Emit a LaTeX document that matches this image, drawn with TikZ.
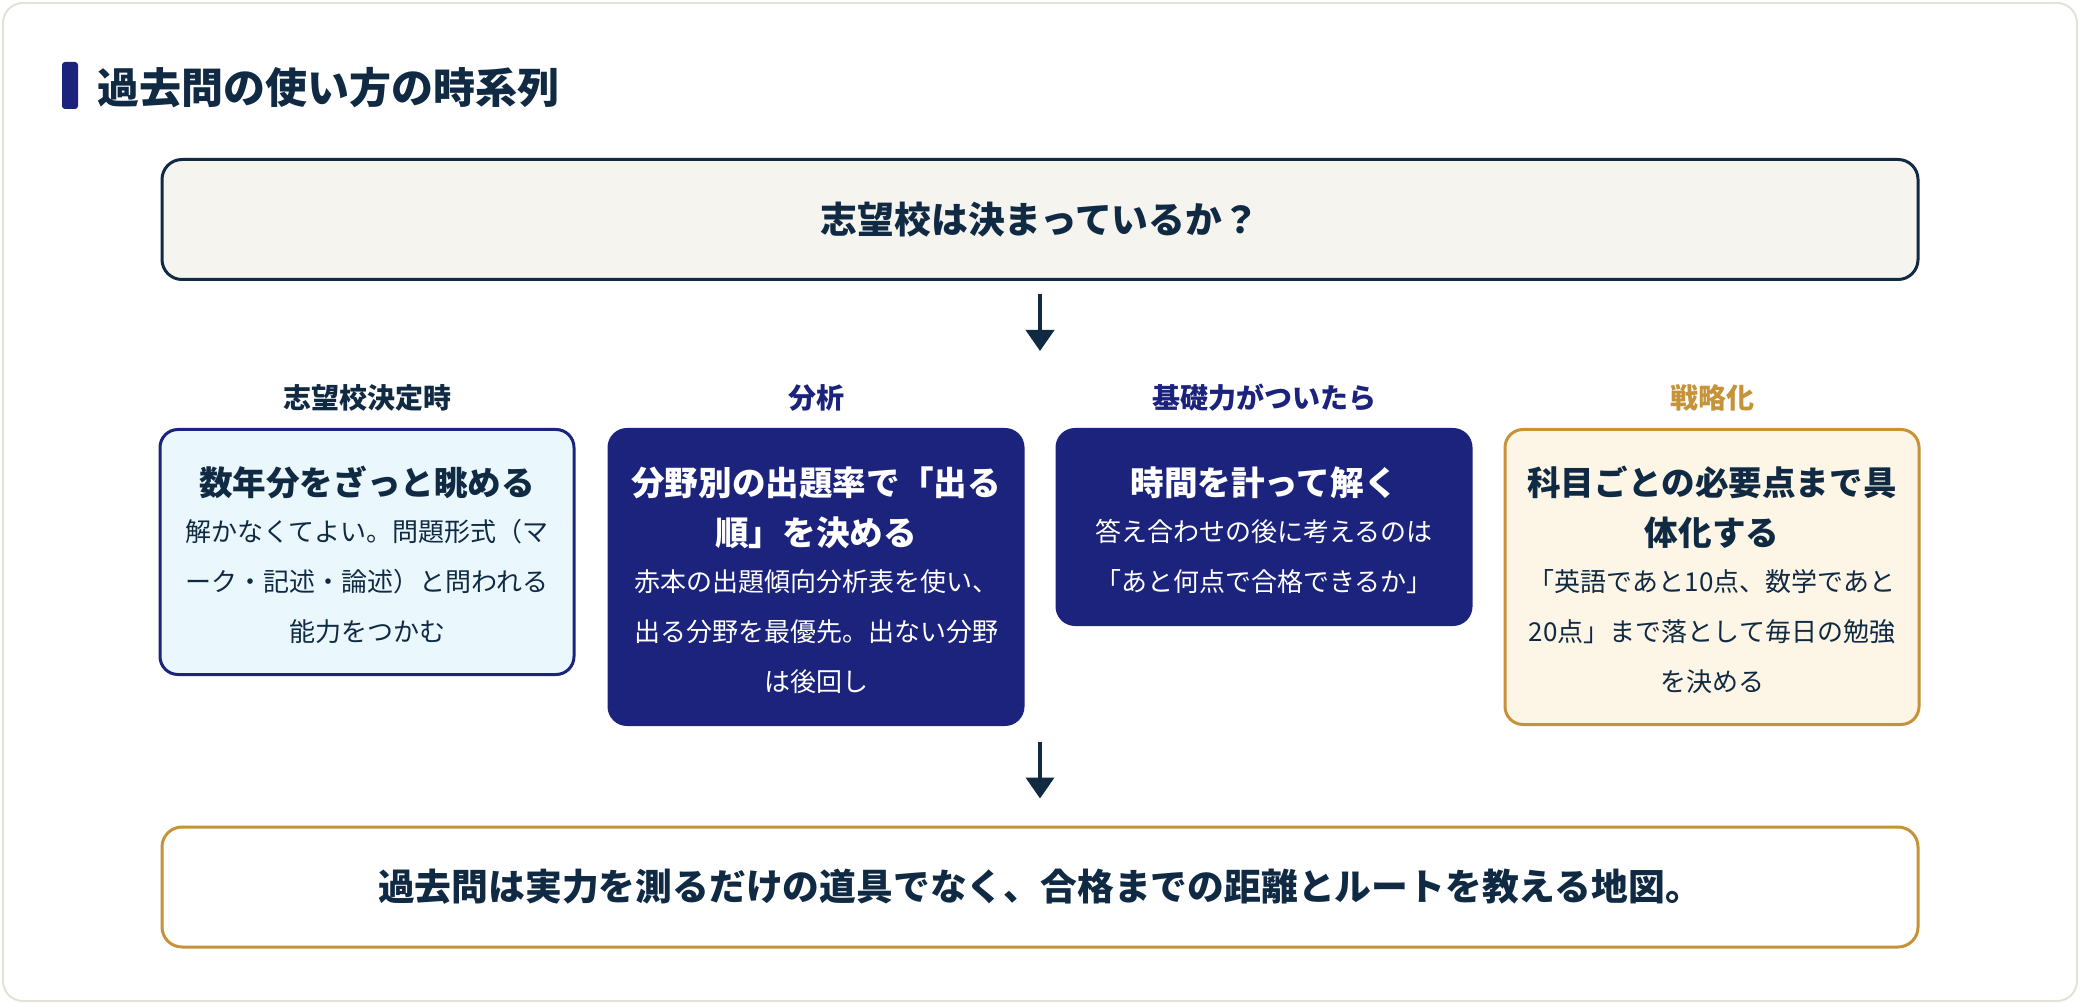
\documentclass[tikz,border=0pt]{standalone}
\usepackage{fontspec}
\setmainfont{Noto Sans CJK JP}
\usepackage{tikz}
\usetikzlibrary{arrows.meta}

\definecolor{ink}{HTML}{102A43}
\definecolor{navy}{HTML}{1B237D}
\definecolor{gold}{HTML}{C6933A}
\definecolor{sky}{HTML}{EAF8FD}
\definecolor{cream}{HTML}{FDF5E6}
\definecolor{pale}{HTML}{F5F4EF}
\definecolor{rim}{HTML}{E4E2D6}

\newcommand{\boxhead}{\bfseries\fontsize{16.8pt}{25pt}\selectfont}
\newcommand{\boxbody}{\fontsize{13pt}{25pt}\selectfont}
\newcommand{\stagetext}[2]{{\boxhead\rule{0pt}{26.9pt}#1\par}\vspace{-2pt}{\boxbody #2\rule[-10.6pt]{0pt}{0pt}\par}}

\begin{document}
\begin{tikzpicture}[x=0.5pt,y=-0.5pt,
	stage/.style={draw,line width=1.5pt,rounded corners=9pt,text width=195pt,inner xsep=6pt,inner ysep=6pt,align=center,anchor=north},
	wide/.style={draw=ink,line width=1.5pt,rounded corners=10pt,minimum width=878pt,minimum height=60pt,text=ink,font=\bfseries\fontsize{18.4pt}{22pt}\selectfont},
	phase/.style={font=\bfseries\fontsize{14pt}{16pt}\selectfont},
	flow/.style={draw=ink,line width=2pt,-{Triangle[width=14pt,length=10.5pt]}}]
	\useasboundingbox (0,0) rectangle (2080,1004);
	\fill[white] (0,0) rectangle (2080,1004);
	\draw[rim,line width=1pt,fill=white,rounded corners=10pt] (3,3) rectangle (2077,1001);

	\node[fill=navy,rounded corners=1.5pt,minimum width=8pt,minimum height=23.5pt,inner sep=0pt] (bar) at (70,85.5) {};
	\node[anchor=west,inner sep=0pt,text=ink,font=\bfseries\fontsize{21pt}{24pt}\selectfont] (title) at (97,88) {過去問の使い方の時系列};

	\node[wide,fill=pale] (ask) at (1040,219.5) {志望校は決まっているか？};

	\node[phase,text=ink] (l1) at (367,398) {志望校決定時};
	\node[phase,text=navy] (l2) at (816,398) {分析};
	\node[phase,text=navy] (l3) at (1264,398) {基礎力がついたら};
	\node[phase,text=gold] (l4) at (1712,398) {戦略化};

	\node[stage,draw=navy,fill=sky,text=ink] (s1) at (367,428) {\stagetext{数年分をざっと眺める}{解かなくてよい。問題形式（マ\\ーク・記述・論述）と問われる\\能力をつかむ}};
	\node[stage,draw=navy,fill=navy,text=white] (s2) at (816,428) {\stagetext{分野別の出題率で「出る\\順」を決める}{赤本の出題傾向分析表を使い、\\出る分野を最優先。出ない分野\\は後回し}};
	\node[stage,draw=navy,fill=navy,text=white] (s3) at (1264,428) {\stagetext{時間を計って解く}{答え合わせの後に考えるのは\\「あと何点で合格できるか」}};
	\node[stage,draw=gold,fill=cream,text=ink] (s4) at (1712,428) {\stagetext{科目ごとの必要点まで具\\体化する}{「英語であと10点、数学であと\\20点」まで落として毎日の勉強\\を決める}};

	\node[wide,draw=gold,fill=white] (goal) at (1040,887) {過去問は実力を測るだけの道具でなく、合格までの距離とルートを教える地図。};

	\coordinate (tip1) at (1040,351);
	\coordinate (tail2) at (1040,742);
	\draw[flow,shorten <=6.5pt] (ask) -- (tip1);
	\draw[flow,shorten >=13.5pt] (tail2) -- (goal);
\end{tikzpicture}
\end{document}
